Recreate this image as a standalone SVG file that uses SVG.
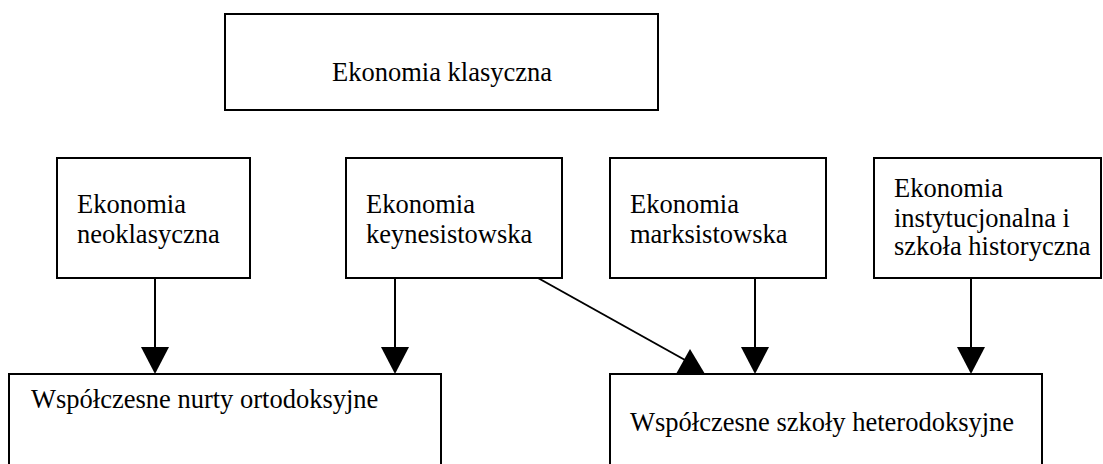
<svg xmlns="http://www.w3.org/2000/svg" width="1103" height="464" viewBox="0 0 1103 464">
<style>
.box{fill:#fff;stroke:#000;stroke-width:2}
.t{font-family:'Liberation Serif','DejaVu Serif',serif;font-size:26.5px;fill:#000}
.ln{stroke:#000;stroke-width:2;fill:none}
.ah{fill:#000}
</style>
<rect width="1103" height="464" fill="#fff"/>
<g id="connectors">
<line class="ln" x1="155" y1="278" x2="155" y2="350"/>
<polygon class="ah" points="141,347 169,347 155,374"/>
<line class="ln" x1="395" y1="278" x2="395" y2="350"/>
<polygon class="ah" points="381,347 409,347 395,374"/>
<line class="ln" x1="755" y1="278" x2="755" y2="350"/>
<polygon class="ah" points="741,347 769,347 755,374"/>
<line class="ln" x1="971" y1="278" x2="971" y2="350"/>
<polygon class="ah" points="957,347 985,347 971,374"/>
<line class="ln" x1="538" y1="278" x2="685" y2="360"/>
<polygon class="ah" points="690,349 676,374 705,374"/>
</g>
<g id="n-klasyczna">
<rect class="box" x="225" y="14" width="433" height="96"/>
<text class="t" x="332" y="81">Ekonomia klasyczna</text>
</g>
<g id="n-neoklasyczna">
<rect class="box" x="57" y="158" width="193" height="120"/>
<text class="t" x="77" y="213">Ekonomia</text>
<text class="t" x="77" y="243">neoklasyczna</text>
</g>
<g id="n-keynesistowska">
<rect class="box" x="346" y="158" width="216" height="120"/>
<text class="t" x="366" y="213">Ekonomia</text>
<text class="t" x="366" y="243">keynesistowska</text>
</g>
<g id="n-marksistowska">
<rect class="box" x="610" y="158" width="216" height="120"/>
<text class="t" x="630" y="213">Ekonomia</text>
<text class="t" x="630" y="243">marksistowska</text>
</g>
<g id="n-instytucjonalna">
<rect class="box" x="874" y="158" width="227" height="120"/>
<text class="t" x="894" y="197">Ekonomia</text>
<text class="t" x="894" y="227">instytucjonalna i</text>
<text class="t" x="894" y="255">szkoła historyczna</text>
</g>
<g id="n-ortodoksyjne">
<rect class="box" x="9" y="374" width="432" height="100"/>
<text class="t" x="31" y="408">Współczesne nurty ortodoksyjne</text>
</g>
<g id="n-heterodoksyjne">
<rect class="box" x="610" y="374" width="432" height="100"/>
<text class="t" x="630" y="431">Współczesne szkoły heterodoksyjne</text>
</g>
</svg>
